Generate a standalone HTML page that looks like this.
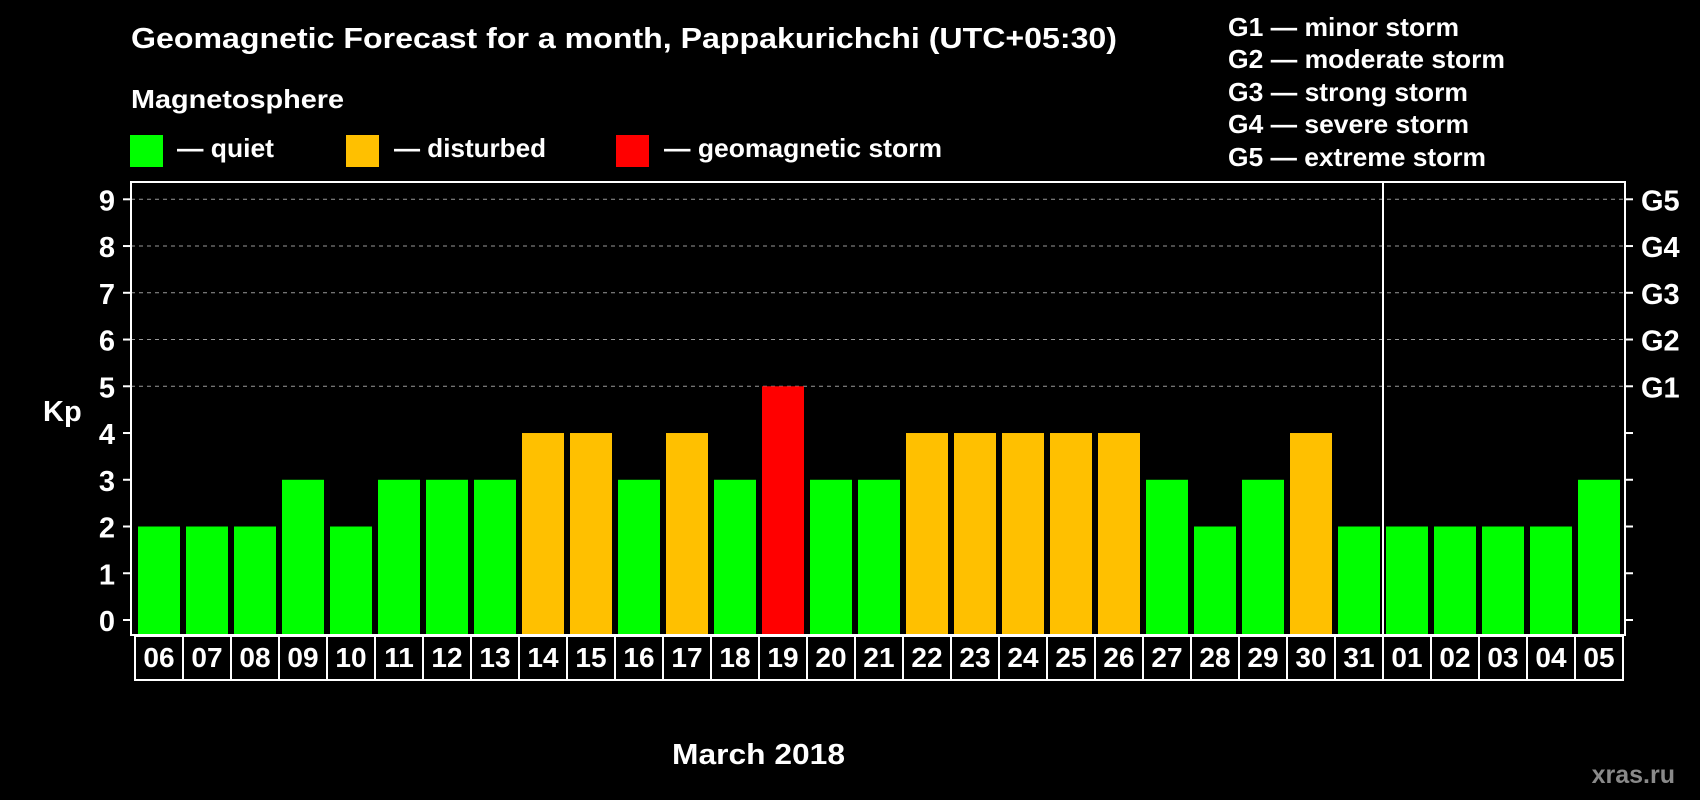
<!DOCTYPE html>
<html><head><meta charset="utf-8"><style>
html,body{margin:0;padding:0;background:#000;}
svg{display:block;font-family:"Liberation Sans",Arial,sans-serif;font-weight:bold;}
</style></head><body>
<svg id="chart" width="1700" height="800" viewBox="0 0 1700 800">
<text x="131" y="48" font-size="29" fill="#fff" textLength="986" lengthAdjust="spacingAndGlyphs">Geomagnetic Forecast for a month, Pappakurichchi (UTC+05:30)</text>
<text x="131" y="108" font-size="26" fill="#fff" textLength="213" lengthAdjust="spacingAndGlyphs">Magnetosphere</text>
<rect x="130" y="135" width="33" height="32" fill="#00ff00"/>
<text x="177" y="157" font-size="26" fill="#fff" textLength="97" lengthAdjust="spacingAndGlyphs">— quiet</text>
<rect x="346" y="135" width="33" height="32" fill="#ffc000"/>
<text x="394" y="157" font-size="26" fill="#fff" textLength="152" lengthAdjust="spacingAndGlyphs">— disturbed</text>
<rect x="616" y="135" width="33" height="32" fill="#ff0000"/>
<text x="664" y="157" font-size="26" fill="#fff" textLength="278" lengthAdjust="spacingAndGlyphs">— geomagnetic storm</text>
<g font-size="26" fill="#fff">
<text x="1228" y="36" textLength="231" lengthAdjust="spacingAndGlyphs">G1 — minor storm</text>
<text x="1228" y="68" textLength="277" lengthAdjust="spacingAndGlyphs">G2 — moderate storm</text>
<text x="1228" y="101" textLength="240" lengthAdjust="spacingAndGlyphs">G3 — strong storm</text>
<text x="1228" y="133" textLength="241" lengthAdjust="spacingAndGlyphs">G4 — severe storm</text>
<text x="1228" y="166" textLength="258" lengthAdjust="spacingAndGlyphs">G5 — extreme storm</text>
</g>
<text x="43" y="421" font-size="29" fill="#fff">Kp</text>
<text x="672" y="764" font-size="29" fill="#fff" textLength="173" lengthAdjust="spacingAndGlyphs">March 2018</text>
<text x="1675" y="783" font-size="25" fill="#8a8a8a" text-anchor="end">xras.ru</text>
<g id="grid"></g><g id="bars"></g><g id="axes"></g>
</svg>
<script>
const days=["06","07","08","09","10","11","12","13","14","15","16","17","18","19","20","21","22","23","24","25","26","27","28","29","30","31","01","02","03","04","05"];
const kp=[2,2,2,3,2,3,3,3,4,4,3,4,3,5,3,3,4,4,4,4,4,3,2,3,4,2,2,2,2,2,3];
const yTicks=[0,1,2,3,4,5,6,7,8,9];
const gLabels=["G1","G2","G3","G4","G5"];
const gLevels=[5,6,7,8,9];
const NS="http://www.w3.org/2000/svg";
const L=131,R=1625,T=182,B=635,X0=138,BW=42;
const N=kp.length;
const pitch=(1620-BW-X0)/(N-1);
function y(v){return 620-v*(620-199.3)/9;}
function x(i){return X0+i*pitch;}
function mk(tag,attrs,parent){const e=document.createElementNS(NS,tag);for(const k in attrs)e.setAttribute(k,attrs[k]);parent.appendChild(e);return e;}
const grid=document.getElementById('grid'),bars=document.getElementById('bars'),axes=document.getElementById('axes');
gLevels.forEach((v,i)=>{
 const l=mk('line',{x1:L,x2:R,y1:y(v),y2:y(v),stroke:'#999','stroke-dasharray':'4 4','stroke-width':1},grid);
 
 
 const t=mk('text',{x:1641,y:y(v)+11,'font-size':29,fill:'#fff'},axes);t.textContent=gLabels[i];
 
 
});
kp.forEach((v,i)=>{
 const c=v>=5?'#ff0000':(v>=4?'#ffc000':'#00ff00');
 const r=mk('rect',{x:x(i),y:y(v),width:BW,height:B-y(v),fill:c},bars);
 
 
});
yTicks.forEach(v=>{
 mk('line',{x1:L-8,x2:L,y1:y(v),y2:y(v),stroke:'#fff','stroke-width':2},axes);
 mk('line',{x1:R,x2:R+8,y1:y(v),y2:y(v),stroke:'#fff','stroke-width':2},axes);
 const t=mk('text',{x:115,y:y(v)+11,'font-size':29,fill:'#fff','text-anchor':'end'},axes);t.textContent=v;
 
 
});
const f=mk('rect',{x:L,y:T,width:R-L,height:B-T,fill:'none',stroke:'#fff','stroke-width':2},axes);


const mi=days.indexOf("01");
const dv=x(mi)-(pitch-BW)/2;
mk('line',{x1:dv,x2:dv,y1:T,y2:B,stroke:'#fff','stroke-width':2},axes);
const lb=mk('rect',{x:135,y:636,width:1488,height:44,fill:'none',stroke:'#fff','stroke-width':2},axes);


kp.forEach((v,i)=>{
 if(i>0){const bx=x(i)-(pitch-BW)/2;mk('line',{x1:bx,x2:bx,y1:636,y2:680,stroke:'#fff','stroke-width':2},axes);}
 const t=mk('text',{x:x(i)+BW/2,y:667,'font-size':28,fill:'#fff','text-anchor':'middle'},axes);t.textContent=days[i];
 
 
});
</script>
</body></html>
